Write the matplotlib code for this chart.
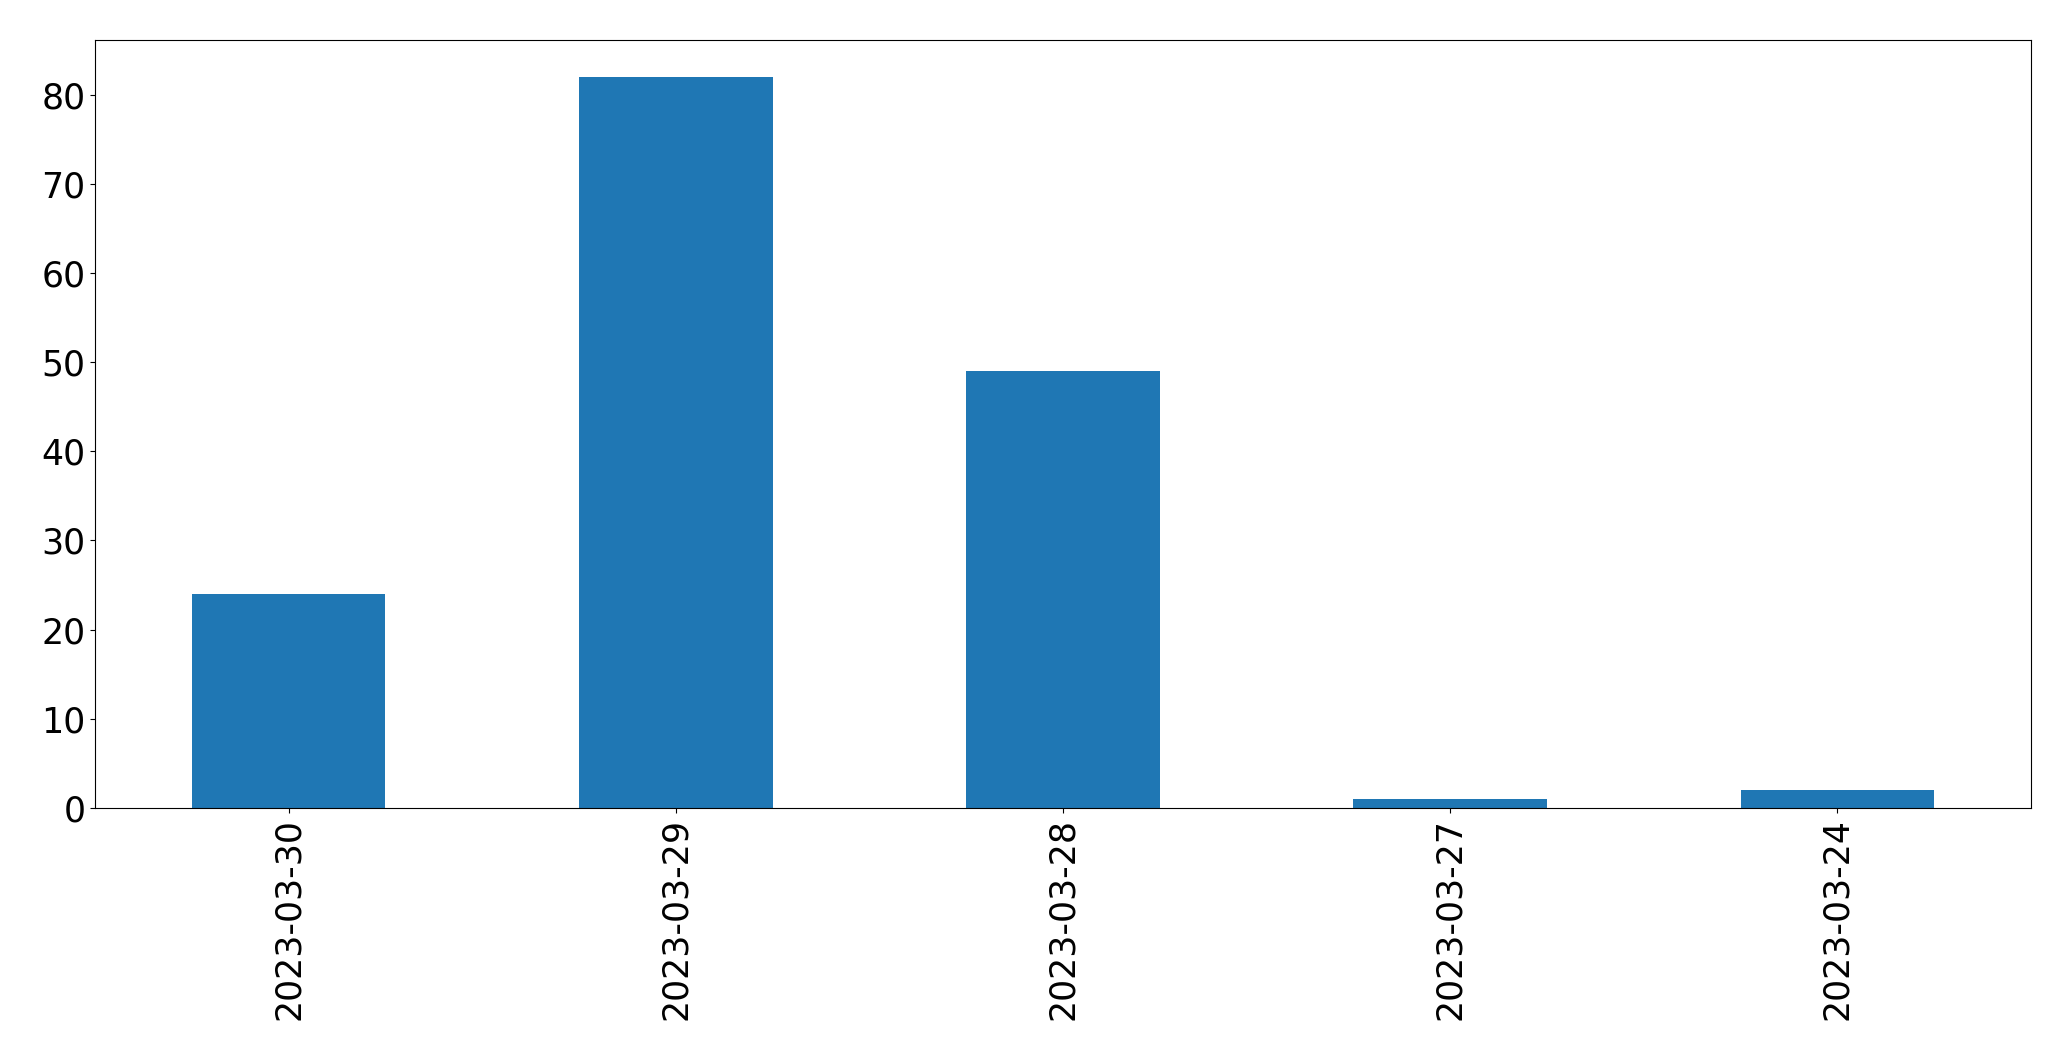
import pandas as pd
import matplotlib
matplotlib.use("Agg")
import matplotlib.pyplot as plt

dates = ["2023-03-30", "2023-03-29", "2023-03-28", "2023-03-27", "2023-03-24"]
counts = [24, 82, 49, 1, 2]

s = pd.Series(counts, index=dates)

fig = plt.figure(figsize=(20.71, 10.61), dpi=100)
ax = fig.add_axes([0.0459, 0.2385, 0.9348, 0.7235])
s.plot(kind="bar", ax=ax, color="#1f77b4")
ax.tick_params(axis="both", labelsize=25)
fig.savefig("out.png", dpi=100)
